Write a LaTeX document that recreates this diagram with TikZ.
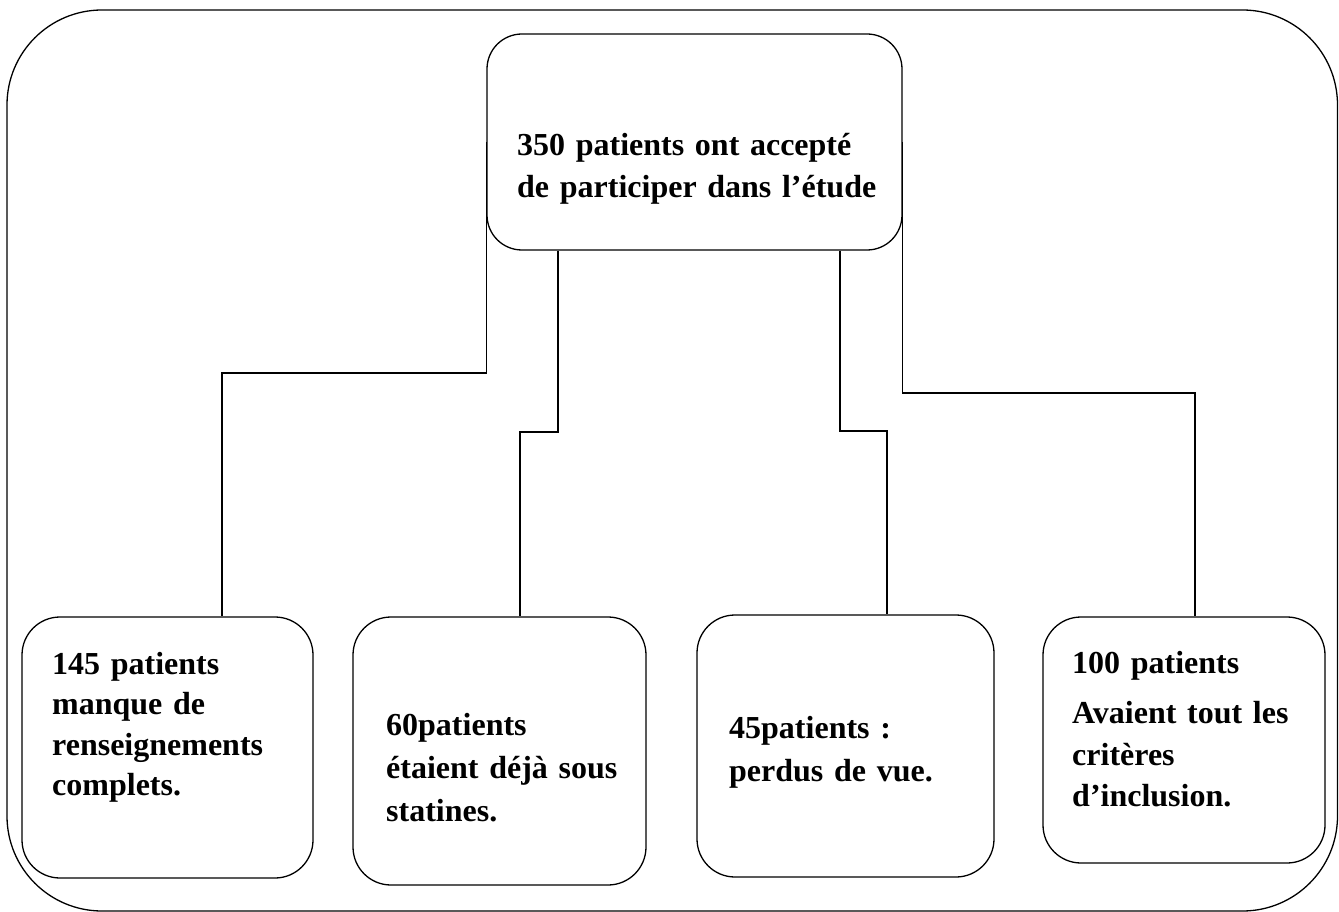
\documentclass[tikz,border=0pt]{standalone}
\usepackage{fontspec}
\setmainfont{Liberation Serif}
\begin{document}
\begin{tikzpicture}[x=1pt,y=-1pt,
  box/.style={draw=black,line width=1.3pt,rounded corners=38pt,inner sep=0pt},
  conn/.style={draw=black,line width=1.3pt},
  txt/.style={inner sep=0pt,anchor=base west,text width=300pt,align=left,
    font=\fontsize{32}{40.5}\selectfont\bfseries}]
\useasboundingbox (0,0) rectangle (1339,912);
\fill[white] (0,0) rectangle (1339,912);
% outer frame
\draw[line width=1.3pt,rounded corners=95pt] (7,10) rectangle (1337.5,911);
% boxes
\node[box,minimum width=415pt,minimum height=216pt,rounded corners=35pt] (top) at (694.5,142) {};
\node[box,minimum width=291pt,minimum height=261pt] (b1) at (167.5,747.5) {};
\node[box,minimum width=293pt,minimum height=268pt] (b2) at (499.5,751) {};
\node[box,minimum width=297pt,minimum height=262pt] (b3) at (845.5,746) {};
\node[box,minimum width=282pt,minimum height=246pt] (b4) at (1184,740) {};
% texts
\node[txt,text width=360pt,font=\fontsize{32}{42}\selectfont\bfseries] (ttop) at (517,156) {350 patients ont accepté\\de participer dans l’étude};
\node[txt] (t1) at (52,674) {145 patients\\manque de\\renseignements\\complets.};
\node[txt,font=\fontsize{32}{43}\selectfont\bfseries] (t2) at (386,735) {60patients\\étaient déjà sous\\statines.};
\node[txt,font=\fontsize{32}{43}\selectfont\bfseries] (t3) at (729,738) {45patients :\\perdus de vue.};
\node[txt,font=\fontsize{32}{41.5}\selectfont\bfseries] (t4) at (1072,673) {100 patients\\[9pt]Avaient tout les\\critères\\d’inclusion.};
% connectors
\draw[conn] (top.west) -- (top.west |- 0,373) -- (222,373) -- (b1.north -| 222,0);
\draw[conn] (top.south -| 558,0) -- (558,432) -- (520,432) -- (b2.north -| 520,0);
\draw[conn] (top.south -| 840,0) -- (840,431) -- (887,431) -- (b3.north -| 887,0);
\draw[conn] (top.east) -- (top.east |- 0,393) -- (1195,393) -- (b4.north -| 1195,0);
\end{tikzpicture}
\end{document}
